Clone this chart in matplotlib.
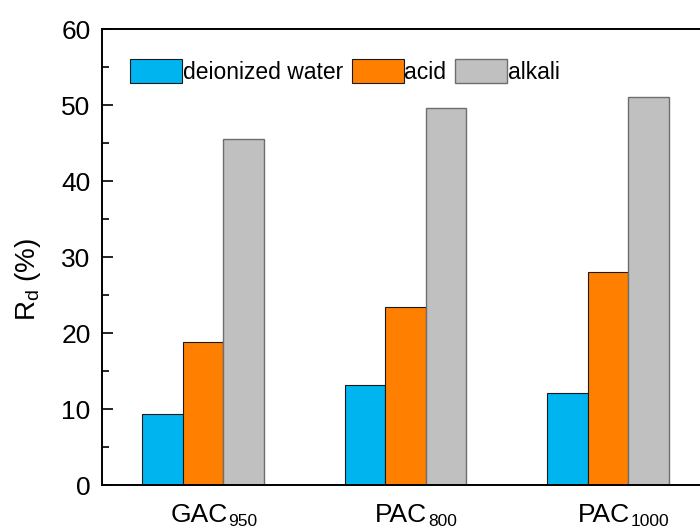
import numpy as np
import matplotlib
matplotlib.use("Agg")
import matplotlib.pyplot as plt

plt.rcParams['font.family'] = ['Liberation Sans', 'DejaVu Sans']
plt.rcParams['mathtext.fontset'] = 'custom'
plt.rcParams['mathtext.rm'] = 'Liberation Sans'
plt.rcParams['mathtext.it'] = 'Liberation Sans:italic'

# data
names = ['GAC', 'PAC', 'PAC']
subs = ['950', '800', '1000']
water = [9.4, 13.2, 12.1]
acid = [18.9, 23.4, 28.1]
alkali = [45.6, 49.6, 51.1]

fig = plt.figure(figsize=(7, 5.31), dpi=100)
# the original picture is cropped on the right, so the axes run past the edge
ax = fig.add_axes([0.1453, 0.0866, 0.868, 0.858])

x = np.arange(1, len(names) + 1)
w = 0.2
ax.bar(x - w, water, w, color='#00B4F0', edgecolor='#1a1a1a', linewidth=0.8, label='deionized water')
ax.bar(x, acid, w, color='#FF8000', edgecolor='#1a1a1a', linewidth=0.8, label='acid')
ax.bar(x + w, alkali, w, color='#C0C0C0', edgecolor='#6e6e6e', linewidth=1.0, label='alkali')

ax.set_xlim(0.5, 3.5)
ax.set_ylim(0, 60)
ax.set_xticks(x)
ax.set_xticklabels([])
ax.set_yticks(range(0, 61, 10))
ax.set_yticks(range(5, 60, 10), minor=True)
ax.tick_params(axis='x', length=0)
ax.tick_params(axis='y', which='major', direction='in', length=8, width=1.2, labelsize=19, pad=8)
ax.tick_params(axis='y', which='minor', direction='in', length=5, width=1.2)
for s in ax.spines.values():
    s.set_linewidth(1.4)

# category labels with a lowered, smaller subscript
for xi, n, s in zip(x, names, subs):
    t = ax.annotate(n, xy=(xi, 0), xycoords=('data', 'axes fraction'),
                    xytext=(-3, -26.5), textcoords='offset points',
                    ha='center', va='baseline', fontsize=19, annotation_clip=False)
    ax.annotate(s, xy=(1, 0), xycoords=t, xytext=(0.5, 0.5), textcoords='offset points',
                ha='left', va='baseline', fontsize=12.5, annotation_clip=False)

ax.set_ylabel(r'R$_{\mathrm{d}}$ (%)', fontsize=20)
ax.yaxis.set_label_coords(-0.097, 0.452)

ax.legend(loc='upper left', bbox_to_anchor=(0.047, 0.935), ncol=3, frameon=False,
          fontsize=16.5, handlelength=2.27, handleheight=1.2, handletextpad=0.03,
          columnspacing=0.37, borderpad=0, borderaxespad=0)

fig.savefig('out.png', dpi=100)
